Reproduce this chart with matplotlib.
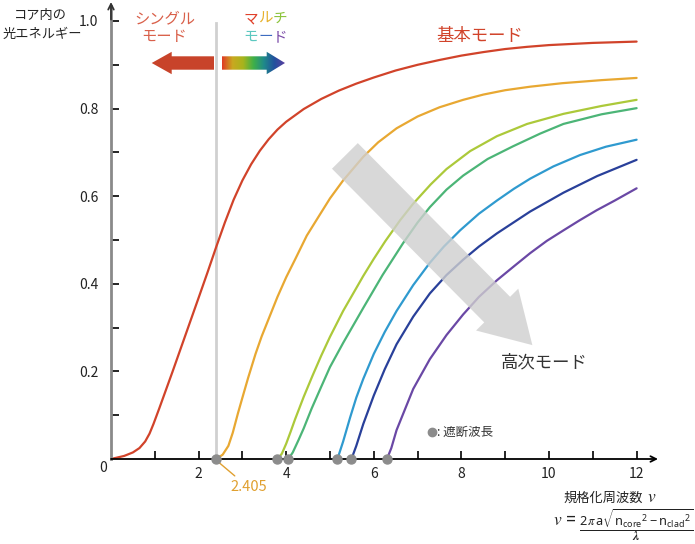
import numpy as np
import matplotlib
matplotlib.use("Agg")
import matplotlib.pyplot as plt
from matplotlib.patches import Polygon
from matplotlib.colors import LinearSegmentedColormap

plt.rcParams["font.family"] = ["Noto Sans CJK JP", "DejaVu Sans"]
plt.rcParams["mathtext.fontset"] = "custom"
plt.rcParams["mathtext.rm"] = "Noto Sans"
plt.rcParams["mathtext.it"] = "STIXGeneral:italic"
plt.rcParams["mathtext.bf"] = "STIXGeneral:italic:bold"

W, H = 695, 544

# normalized frequency v vs. fraction of power in core
modes = {
    "LP01": {
        "x": [0.0, 0.3, 0.5, 0.65, 0.78, 0.88, 0.97, 1.1, 1.4, 1.7, 2.0, 2.2, 2.405, 2.6, 2.8,
              3.0, 3.2, 3.4, 3.6, 3.8, 4.0, 4.4, 4.8, 5.2, 5.6, 6.0, 6.5, 7.0, 7.5, 8.0,
              8.5, 9.0, 9.5, 10.0, 11.0, 12.0],
        "y": [0.0, 0.007, 0.015, 0.025, 0.04, 0.058, 0.08, 0.115, 0.198, 0.283, 0.368, 0.425,
              0.485, 0.54, 0.592, 0.636, 0.673, 0.704, 0.73, 0.752, 0.77, 0.799, 0.822, 0.841,
              0.857, 0.871, 0.887, 0.9, 0.911, 0.921, 0.929, 0.936, 0.941, 0.945, 0.95, 0.953],
        "color": "#d1432a",
    },
    "LP11": {
        "x": [2.405, 2.55, 2.68, 2.78, 2.9, 3.0, 3.13, 3.3, 3.44, 3.6, 3.8, 4.0, 4.2, 4.47,
              4.75, 5.0, 5.3, 5.76, 6.1, 6.52, 7.0, 7.5, 8.04, 8.5, 9.0, 9.57, 10.3, 11.2, 12.0],
        "y": [0.0, 0.01, 0.03, 0.06, 0.105, 0.14, 0.185, 0.24, 0.28, 0.32, 0.37, 0.415, 0.455,
              0.51, 0.555, 0.595, 0.636, 0.69, 0.723, 0.755, 0.782, 0.803, 0.82, 0.832, 0.842,
              0.85, 0.858, 0.865, 0.87],
        "color": "#e8a832",
    },
    "LP21": {
        "x": [3.80, 3.9, 4.0, 4.1, 4.2, 4.4, 4.6, 4.8, 5.0, 5.3, 5.76, 6.0, 6.26, 6.6, 6.9,
              7.3, 7.66, 8.2, 8.81, 9.5, 10.33, 11.2, 12.0],
        "y": [0.0, 0.012, 0.035, 0.062, 0.09, 0.142, 0.19, 0.236, 0.279, 0.338, 0.418, 0.457,
              0.497, 0.545, 0.583, 0.627, 0.662, 0.703, 0.737, 0.765, 0.788, 0.806, 0.82],
        "color": "#acc93a",
    },
    "LP02": {
        "x": [4.05, 4.15, 4.28, 4.4, 4.58, 4.8, 5.0, 5.3, 5.76, 6.2, 6.67, 7.0, 7.28, 7.66,
              8.04, 8.6, 9.18, 9.8, 10.33, 11.2, 12.0],
        "y": [0.0, 0.015, 0.043, 0.07, 0.115, 0.165, 0.21, 0.265, 0.345, 0.42, 0.493, 0.54,
              0.575, 0.615, 0.647, 0.685, 0.714, 0.743, 0.765, 0.787, 0.801],
        "color": "#4cb577",
    },
    "LP31": {
        "x": [5.17, 5.3, 5.46, 5.6, 5.76, 6.0, 6.25, 6.52, 6.9, 7.28, 7.6, 7.97, 8.4, 8.81,
              9.2, 9.57, 10.1, 10.71, 11.3, 12.0],
        "y": [0.0, 0.04, 0.095, 0.14, 0.183, 0.24, 0.29, 0.338, 0.397, 0.448, 0.485, 0.522,
              0.56, 0.59, 0.617, 0.64, 0.668, 0.694, 0.713, 0.729],
        "color": "#2f9acf",
    },
    "LP12": {
        "x": [5.49, 5.6, 5.76, 6.0, 6.25, 6.52, 6.9, 7.28, 7.66, 8.04, 8.4, 8.81, 9.57,
              10.33, 11.1, 12.0],
        "y": [0.0, 0.03, 0.08, 0.145, 0.205, 0.262, 0.325, 0.378, 0.42, 0.455, 0.485, 0.515,
              0.565, 0.608, 0.646, 0.683],
        "color": "#29409a",
    },
    "LP41": {
        "x": [6.30, 6.4, 6.52, 6.9, 7.28, 7.66, 8.04, 8.4, 8.81, 9.2, 9.57, 9.95, 10.33,
              10.7, 11.09, 11.5, 12.0],
        "y": [0.0, 0.025, 0.066, 0.16, 0.228, 0.283, 0.33, 0.37, 0.408, 0.44, 0.47, 0.498,
              0.522, 0.545, 0.568, 0.59, 0.618],
        "color": "#6a48a5",
    },
}
cutoffs = [2.405, 3.80, 4.05, 5.17, 5.49, 6.30]

x_ticks = list(range(1, 13))
x_labels = ["", "2", "", "4", "", "6", "", "8", "", "10", "", "12"]
y_ticks = [0.1, 0.2, 0.3, 0.4, 0.5, 0.6, 0.7, 0.8, 0.9, 1.0]
y_labels = ["", "0.2", "", "0.4", "", "0.6", "", "0.8", "", "1.0"]

fig = plt.figure(figsize=(W / 100, H / 100), dpi=100)
ax = fig.add_axes([111 / W, 1 - 459 / H, 547 / W, 457 / H])
xmax, ymax = 547 / 43.8, 457 / 438
ax.set_xlim(0, xmax)
ax.set_ylim(0, ymax)
for s in ax.spines.values():
    s.set_visible(False)


def fig_text(px, py, s, **kw):
    fig.text(px / W, 1 - py / H, s, **kw)


# axes with arrow heads
ax.plot([0, 0], [0, ymax - 0.01], color="#8a8a8a", lw=2, clip_on=False, zorder=3)
ax.annotate("", xy=(0, ymax), xytext=(0, ymax - 0.04),
            arrowprops=dict(arrowstyle="->", color="#333333", lw=1.3, shrinkA=0, shrinkB=0),
            annotation_clip=False)
ax.annotate("", xy=(xmax, 0), xytext=(0, 0),
            arrowprops=dict(arrowstyle="->", color="black", lw=1.3, shrinkA=0, shrinkB=0),
            annotation_clip=False, zorder=3)

ax.set_xticks(x_ticks)
ax.set_xticklabels(x_labels, fontsize=10, color="#222222")
ax.set_yticks(y_ticks)
ax.set_yticklabels(y_labels, fontsize=10, color="#222222")
ax.tick_params(axis="x", direction="in", length=6, width=1.2, pad=6)
ax.tick_params(axis="y", direction="in", length=5.5, width=1.2, pad=9)
fig_text(103, 468, "0", fontsize=10, color="#222222", ha="center", va="center")

# single / multi mode boundary
ax.plot([2.405, 2.405], [0, 0.995], color="#d0d0d0", lw=2, zorder=1)

for name, m in modes.items():
    ax.plot(m["x"], m["y"], color=m["color"], lw=1.6, zorder=2,
            solid_capstyle="round", solid_joinstyle="round")

ax.scatter(cutoffs, [0] * len(cutoffs), s=42, color="#8c8c8c", zorder=5, clip_on=False)

# 2.405 callout
ax.annotate("2.405", xy=(2.405, -0.003), xytext=(2.72, -0.065),
            fontsize=10.5, color="#e0a030", ha="left", va="center",
            arrowprops=dict(arrowstyle="-", color="#e0a030", lw=1, shrinkA=2, shrinkB=3),
            annotation_clip=False)


def px2d(px, py):
    return (px - 111) / 43.8, (459 - py) / 438


# single-mode arrow (left)
yc = 63
red_arrow = [px2d(214, yc - 6.7), px2d(171.7, yc - 6.7), px2d(171.7, yc - 11.2), px2d(151.7, yc),
             px2d(171.7, yc + 11.2), px2d(171.7, yc + 6.7), px2d(214, yc + 6.7)]
ax.add_patch(Polygon(red_arrow, closed=True, facecolor="#c8432a", edgecolor="none", zorder=3))

# multi-mode arrow (right, gradient)
multi_arrow = [px2d(222, yc - 6.7), px2d(266.7, yc - 6.7), px2d(266.7, yc - 11.2), px2d(285, yc),
               px2d(266.7, yc + 11.2), px2d(266.7, yc + 6.7), px2d(222, yc + 6.7)]
clip = Polygon(multi_arrow, closed=True, facecolor="none", edgecolor="none")
ax.add_patch(clip)
rainbow = LinearSegmentedColormap.from_list(
    "rb", ["#e03a25", "#c9a820", "#a8b41c", "#3fb048", "#1f8a8a", "#22509e", "#5b3fa0"])
x0, y0 = px2d(222, yc + 12)
x1, y1 = px2d(285, yc - 12)
grad = ax.imshow(np.linspace(0, 1, 256)[None, :], cmap=rainbow, aspect="auto",
                 extent=[x0, x1, y0, y1], zorder=3)
grad.set_clip_path(clip)
ax.set_xlim(0, xmax)
ax.set_ylim(0, ymax)

# higher-order modes arrow
ax.annotate("", xy=(9.62, 0.260), xytext=(5.34, 0.692),
            arrowprops=dict(arrowstyle="simple,head_width=2.14,head_length=1.8,tail_width=1.31",
                            mutation_scale=20, facecolor="#cfcfcf", edgecolor="none",
                            alpha=0.8, shrinkA=0, shrinkB=0), zorder=4)

# texts
fig_text(40, 15, "コア内の", fontsize=9.5, color="#222222", ha="center", va="center")
fig_text(42, 34, "光エネルギー", fontsize=9.5, color="#222222", ha="center", va="center")
fig_text(165, 19, "シングル", fontsize=11, color="#d9604a", ha="center", va="center")
fig_text(164, 37, "モード", fontsize=11, color="#d9604a", ha="center", va="center")

multi_top = [("マ", "#e0402a"), ("ル", "#e6b02a"), ("チ", "#8cc43c")]
multi_bot = [("モ", "#5cc8c0"), ("ー", "#3a6ac0"), ("ド", "#7a4aa8")]
for i, (ch, c) in enumerate(multi_top):
    fig_text(250.5 + 15 * i, 19, ch, fontsize=10.5, color=c, ha="center", va="center")
for i, (ch, c) in enumerate(multi_bot):
    fig_text(250.5 + 15 * i, 37, ch, fontsize=10.5, color=c, ha="center", va="center")

fig_text(480, 36, "基本モード", fontsize=12.5, color="#d1432a", ha="center", va="center")
fig_text(544, 362, "高次モード", fontsize=12.5, color="#333333", ha="center", va="center")

fig.add_artist(plt.Line2D([432 / W], [1 - 432 / H], marker="o", markersize=6,
                          color="#8c8c8c", linestyle="none"))
fig_text(437, 432, ": 遮断波長", fontsize=9, color="#333333", ha="left", va="center")

# axis title and formula
fig_text(603, 498, "規格化周波数", fontsize=9.5, color="#222222", ha="center", va="center")
fig_text(652, 497, r"$\mathit{v}$", fontsize=12.5, color="#222222", ha="center", va="center")
fig_text(576, 520, r"$\mathit{v}\,=$", fontsize=12.5, color="#222222", ha="right", va="center")
fig_text(636, 525,
         r"$\dfrac{\mathrm{2}\,\pi\,\mathrm{a}\sqrt{\mathrm{n}_{\mathrm{core}}{}^{\mathrm{2}}"
         r" - \mathrm{n}_{\mathrm{clad}}{}^{\mathrm{2}}}}{\mathbf{\lambda}}$",
         fontsize=9.2, color="#222222", ha="center", va="center")

fig.savefig("out.png", dpi=100)
